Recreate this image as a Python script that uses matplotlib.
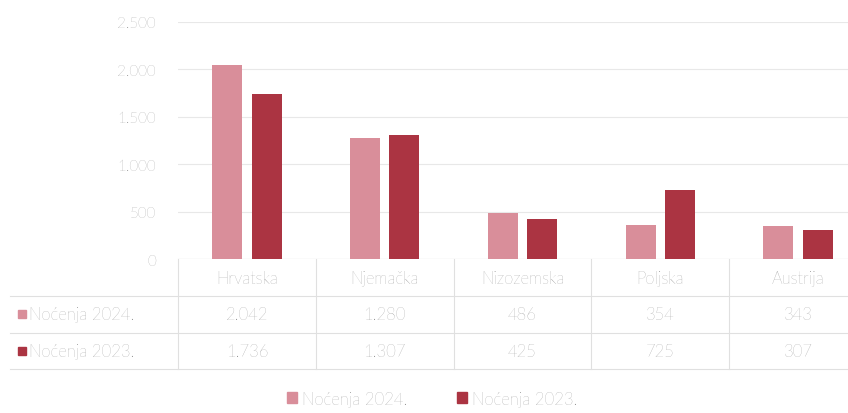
import matplotlib
matplotlib.use("Agg")
import matplotlib.pyplot as plt
import matplotlib.transforms as mtransforms
from matplotlib.patches import Patch, Rectangle
from matplotlib.lines import Line2D
import numpy as np

# Data
countries = ["Hrvatska", "Njemačka", "Nizozemska", "Poljska", "Austrija"]
nocenja_2024 = [2042, 1280, 486, 354, 343]
nocenja_2023 = [1736, 1307, 425, 725, 307]
series_names = ["Noćenja 2024.", "Noćenja 2023."]
y_ticks = [0, 500, 1000, 1500, 2000, 2500]

c_light = "#d98e9a"
c_dark = "#ab3442"
txt = "#7f7f7f"
line_c = "#e0e0e0"
fs = 12

plt.rcParams["font.family"] = ["Lato", "DejaVu Sans"]
plt.rcParams["font.weight"] = "light"


def fmt(v):
    return f"{v:,}".replace(",", ".")


fig = plt.figure(figsize=(8.48, 4.14), dpi=100)
ax = fig.add_axes([178 / 848, 154 / 414, 689 / 848, 237 / 414])

x = np.arange(len(countries))
w = 0.218
off = 0.143
ax.bar(x - off, nocenja_2024, w, color=c_light, zorder=3)
ax.bar(x + off, nocenja_2023, w, color=c_dark, zorder=3)

ax.set_xlim(-0.5, len(countries) - 0.5)
ax.set_ylim(0, 2500)
ax.set_yticks(y_ticks)
ax.set_yticklabels([fmt(t) for t in y_ticks])
ax.tick_params(axis="y", length=0, pad=16, labelsize=fs - 1, labelcolor=txt)
ax.set_xticks([])
ax.grid(axis="y", color="#e8e8e8", lw=0.8, zorder=0)
for s in ax.spines.values():
    s.set_visible(False)

# table under the plot
tr = mtransforms.blended_transform_factory(ax.transData, ax.transAxes)
row_y = [-0.08, -0.232, -0.388]
h_lines = [0.0, -0.156, -0.312, -0.464]

for i, c in enumerate(countries):
    ax.text(i, row_y[0], c, transform=tr, ha="center", va="center",
            fontsize=fs, color=txt, clip_on=False)
    ax.text(i, row_y[1], fmt(nocenja_2024[i]), transform=tr, ha="center",
            va="center", fontsize=fs, color=txt, clip_on=False)
    ax.text(i, row_y[2], fmt(nocenja_2023[i]), transform=tr, ha="center",
            va="center", fontsize=fs, color=txt, clip_on=False)

for xv in np.arange(len(countries) + 1) - 0.5:
    ax.add_line(Line2D([xv, xv], [0, h_lines[-1]], transform=tr, color=line_c,
                       lw=0.8, clip_on=False))

ax.axhline(0, color="#d8d8d8", lw=0.8, zorder=2)
for hy in h_lines[1:]:
    yf = (154 + hy * 237) / 414
    fig.add_artist(Line2D([10 / 848, 1.0], [yf, yf], color=line_c, lw=0.8,
                          transform=fig.transFigure))

# row headers
for name, col, ry in zip(series_names, [c_light, c_dark], row_y[1:]):
    yf = (154 + ry * 237) / 414
    fig.add_artist(Rectangle((18 / 848, yf - 4 / 414), 8 / 848, 8 / 414,
                             transform=fig.transFigure, color=col))
    fig.text(29 / 848, yf, name, ha="left", va="center", fontsize=fs, color=txt)

# legend
handles = [Patch(color=c_light), Patch(color=c_dark)]
fig.legend(handles, series_names, loc="center", bbox_to_anchor=(0.51, 0.035),
           ncol=2, frameon=False, fontsize=fs, labelcolor=txt,
           handlelength=0.6, handleheight=0.6, handletextpad=0.3,
           columnspacing=3.0)

fig.savefig("out.png", dpi=100)
